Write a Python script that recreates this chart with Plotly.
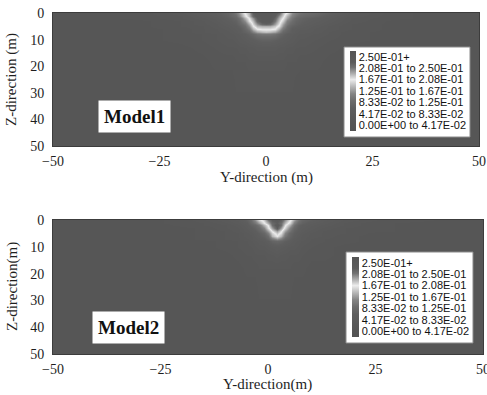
import plotly.graph_objects as go

W, H = 487, 395

# ---- Data -------------------------------------------------------------
# Horizontal (Y) and depth (Z) sample positions, metres
Y1 = [-50, -30, -20, -15, -12, -9, -8, -7, -6, -5, -4, -3, -2, -1, 0,
      1, 2, 3, 4, 5, 6, 7, 8, 9, 12, 15, 20, 30, 50]
Z1 = [0, 1, 2, 3, 4, 5, 6, 7, 8, 10, 13, 18, 25, 35, 50]

# Model1 field values (rows follow Z1, columns follow Y1)
M1 = [
    [.03, .04, .055, .07, .08, .095, .105, .12, .15, .19, .21, .25, .27, .27, .27, .27, .26, .24, .205, .18, .14, .125, .115, .11, .10, .085, .06, .04, .03],
    [.03, .04, .05, .065, .075, .09, .10, .11, .14, .18, .205, .24, .26, .27, .27, .27, .25, .22, .195, .16, .13, .115, .105, .10, .09, .075, .055, .04, .03],
    [.03, .04, .05, .06, .07, .085, .09, .10, .12, .16, .19, .22, .25, .27, .27, .27, .24, .21, .185, .15, .12, .105, .095, .09, .08, .07, .05, .04, .03],
    [.03, .035, .045, .055, .065, .08, .085, .09, .11, .14, .18, .205, .24, .26, .26, .26, .23, .20, .17, .13, .11, .095, .09, .085, .075, .065, .05, .035, .03],
    [.03, .035, .045, .055, .06, .075, .08, .085, .10, .12, .155, .195, .22, .24, .245, .24, .215, .19, .15, .12, .10, .09, .085, .08, .07, .06, .045, .035, .03],
    [.03, .035, .045, .05, .06, .07, .075, .08, .09, .11, .14, .185, .205, .21, .21, .21, .20, .18, .14, .11, .09, .085, .08, .075, .065, .055, .045, .035, .03],
    [.03, .035, .04, .05, .055, .065, .07, .075, .08, .10, .12, .16, .185, .19, .19, .19, .185, .155, .12, .10, .08, .075, .07, .07, .06, .055, .045, .035, .03],
    [.03, .035, .04, .05, .055, .06, .065, .07, .08, .09, .10, .13, .15, .16, .165, .16, .15, .13, .10, .09, .08, .07, .065, .065, .06, .05, .04, .035, .03],
    [.03, .035, .04, .045, .05, .06, .06, .065, .07, .08, .09, .10, .115, .12, .12, .12, .115, .10, .09, .08, .07, .065, .06, .06, .055, .05, .04, .035, .03],
    [.03, .035, .04, .045, .05, .055, .055, .06, .065, .07, .075, .08, .085, .09, .09, .09, .085, .08, .075, .07, .065, .06, .055, .055, .05, .045, .04, .035, .03],
    [.03, .03, .035, .04, .045, .05, .05, .05, .055, .055, .06, .06, .065, .065, .065, .065, .065, .06, .06, .055, .055, .05, .05, .05, .045, .04, .035, .03, .03],
    [.03, .03, .035, .035, .04, .04, .04, .045, .045, .045, .05, .05, .05, .05, .05, .05, .05, .05, .05, .045, .045, .045, .04, .04, .04, .035, .035, .03, .03],
    [.03, .03, .03, .035, .035, .035, .035, .04, .04, .04, .04, .04, .04, .04, .04, .04, .04, .04, .04, .04, .04, .035, .035, .035, .035, .035, .03, .03, .03],
    [.03, .03, .03, .03, .03, .035, .035, .035, .035, .035, .035, .035, .035, .035, .035, .035, .035, .035, .035, .035, .035, .035, .035, .035, .03, .03, .03, .03, .03],
    [.03, .03, .03, .03, .03, .03, .03, .03, .03, .03, .03, .03, .03, .03, .03, .03, .03, .03, .03, .03, .03, .03, .03, .03, .03, .03, .03, .03, .03],
]

Y2 = [-50, -30, -20, -15, -10, -7, -5, -4, -3, -2, -1, 0, 1, 2, 3, 4, 5,
      6, 7, 8, 10, 13, 18, 25, 35, 50]
Z2 = [0, 1, 2, 3, 4, 5, 6, 7, 8, 10, 13, 18, 25, 35, 50]

# Model2 field values (rows follow Z2, columns follow Y2)
M2 = [
    [.03, .035, .04, .05, .06, .07, .09, .11, .14, .175, .20, .23, .25, .255, .245, .22, .19, .15, .12, .10, .085, .07, .055, .045, .04, .03],
    [.03, .035, .04, .045, .055, .065, .08, .10, .12, .15, .185, .21, .24, .25, .235, .205, .175, .13, .105, .09, .075, .065, .05, .04, .035, .03],
    [.03, .03, .04, .045, .05, .06, .075, .09, .10, .12, .16, .19, .235, .26, .235, .19, .155, .115, .09, .08, .07, .06, .05, .04, .035, .03],
    [.03, .03, .035, .04, .05, .055, .07, .08, .09, .105, .135, .18, .215, .25, .215, .175, .13, .10, .085, .075, .065, .055, .045, .04, .035, .03],
    [.03, .03, .035, .04, .045, .055, .065, .07, .08, .095, .115, .15, .19, .215, .19, .15, .115, .09, .08, .07, .06, .05, .045, .04, .035, .03],
    [.03, .03, .035, .04, .045, .05, .06, .065, .075, .085, .10, .13, .175, .20, .18, .135, .10, .085, .075, .065, .055, .05, .045, .035, .03, .03],
    [.03, .03, .035, .04, .045, .05, .06, .06, .07, .08, .09, .11, .16, .185, .16, .12, .095, .08, .07, .06, .055, .05, .04, .035, .03, .03],
    [.03, .03, .035, .04, .045, .05, .055, .06, .065, .07, .08, .095, .12, .14, .125, .10, .085, .07, .065, .06, .05, .045, .04, .035, .03, .03],
    [.03, .03, .035, .035, .04, .045, .05, .055, .06, .065, .07, .08, .095, .10, .095, .085, .075, .065, .06, .055, .05, .045, .04, .035, .03, .03],
    [.03, .03, .03, .035, .04, .045, .05, .05, .055, .06, .06, .065, .07, .075, .07, .065, .06, .06, .055, .05, .045, .04, .035, .035, .03, .03],
    [.03, .03, .03, .035, .035, .04, .045, .045, .05, .05, .05, .055, .055, .06, .055, .055, .05, .05, .05, .045, .04, .04, .035, .03, .03, .03],
    [.03, .03, .03, .03, .035, .035, .04, .04, .04, .045, .045, .045, .045, .045, .045, .045, .045, .04, .04, .04, .035, .035, .03, .03, .03, .03],
    [.03, .03, .03, .03, .03, .035, .035, .035, .035, .04, .04, .04, .04, .04, .04, .04, .04, .035, .035, .035, .035, .03, .03, .03, .03, .03],
    [.03, .03, .03, .03, .03, .03, .03, .03, .035, .035, .035, .035, .035, .035, .035, .035, .035, .035, .035, .03, .03, .03, .03, .03, .03, .03],
    [.03, .03, .03, .03, .03, .03, .03, .03, .03, .03, .03, .03, .03, .03, .03, .03, .03, .03, .03, .03, .03, .03, .03, .03, .03, .03],
]

BAND_EDGES = [0.0, 0.0417, 0.0833, 0.125, 0.1667, 0.2083, 0.25, 0.2917]
BAND_LABELS = ["0.00E+00 to 4.17E-02", "4.17E-02 to 8.33E-02",
               "8.33E-02 to 1.25E-01", "1.25E-01 to 1.67E-01",
               "1.67E-01 to 2.08E-01", "2.08E-01 to 2.50E-01", "2.50E-01+"]
X_TICKS = [-50, -25, 0, 25, 50]
Z_TICKS = [0, 10, 20, 30, 40, 50]
MODEL_NAMES = ["Model1", "Model2"]
X_TITLES = ["Y-direction (m)", "Y-direction(m)"]
Z_TITLES = ["Z-direction (m)", "Z-direction(m)"]

# ---- Styling ----------------------------------------------------------
VMAX = BAND_EDGES[-1]
GRAY_STOPS = [(0.0, "#525252"), (0.042, "#575757"), (0.083, "#5e5e5e"),
              (0.110, "#6c6c6c"), (0.135, "#848484"), (0.160, "#b4b4b4"),
              (0.1875, "#ececec"), (0.210, "#acacac"), (0.232, "#727272"),
              (0.250, "#5c5c5c"), (VMAX, "#555555")]
COLORSCALE = [[v / VMAX, c] for v, c in GRAY_STOPS]
CENTERS = [(a + b) / 2 for a, b in zip(BAND_EDGES[:-1], BAND_EDGES[1:])]

SERIF = "Liberation Serif"
TXT = "#1e1e1e"

# panel frames in pixels: left, right, top, bottom
PANELS = [dict(l=53, r=479, t=13, b=146), dict(l=53, r=483, t=220, b=354)]
# colour key boxes (pixels)
KEYS = [dict(box=(344, 470, 47, 137), bar_x=350, bar_w=6, bar_c=91, lab=11),
        dict(box=(346, 473, 252, 343), bar_x=352, bar_w=7, bar_c=297, lab=11)]
NAME_POS = [(134.5, 116), (128, 327)]
XTITLE_POS = [(266, 178), (267, 384)]
ZTITLE_POS = [(12, 80), (12, 287)]


def fx(px):
    return px / W


def fy(py):
    return 1 - py / H


fig = go.Figure()
data = [(Y1, Z1, M1), (Y2, Z2, M2)]
shapes, annotations = [], []

for i, (yy, zz, mm) in enumerate(data):
    n = "" if i == 0 else str(i + 1)
    p = PANELS[i]
    k = KEYS[i]
    fig.add_trace(go.Heatmap(
        x=yy, y=zz, z=mm, zsmooth="best",
        zmin=0, zmax=VMAX, colorscale=COLORSCALE, showscale=True,
        colorbar=dict(
            x=fx(k["bar_x"]), xanchor="left", xpad=0, ypad=0,
            y=fy(k["bar_c"]), yanchor="middle",
            len=80, lenmode="pixels",
            thickness=k["bar_w"], thicknessmode="pixels",
            outlinewidth=0, ticks="", tickvals=CENTERS,
            ticktext=BAND_LABELS,
            tickfont=dict(family="Liberation Sans", size=k["lab"],
                          color="#111")),
        xaxis="x" + n, yaxis="y" + n))

    axis_common = dict(showgrid=False, zeroline=False, ticks="",
                       showline=True, linecolor="#3c3c3c", linewidth=1,
                       mirror=True, automargin=False,
                       ticklabeloverflow="allow",
                       tickfont=dict(family=SERIF, size=14, color=TXT))
    fig.update_layout({
        "xaxis" + n: dict(axis_common, domain=[fx(p["l"]), fx(p["r"])],
                          range=[-50, 50], tickvals=X_TICKS,
                          anchor="y" + n, ticklabelstandoff=2),
        "yaxis" + n: dict(axis_common, domain=[fy(p["b"]), fy(p["t"])],
                          range=[50, 0], tickvals=Z_TICKS,
                          anchor="x" + n, ticklabelstandoff=5),
    })

    bx0, bx1, by0, by1 = k["box"]
    shapes.append(dict(type="rect", xref="paper", yref="paper",
                       x0=fx(bx0), x1=fx(bx1), y0=fy(by1), y1=fy(by0),
                       fillcolor="white", line=dict(color="#8a8a8a", width=1),
                       layer="above"))

    nx, ny = NAME_POS[i]
    annotations.append(dict(
        text=MODEL_NAMES[i], xref="paper", yref="paper",
        x=fx(nx), y=fy(ny), xanchor="center", yanchor="middle",
        showarrow=False, bgcolor="white", borderpad=5,
        font=dict(family=SERIF, size=19, color="#111", weight="bold")))

    tx, ty = XTITLE_POS[i]
    annotations.append(dict(
        text=X_TITLES[i], xref="paper", yref="paper", x=fx(tx), y=fy(ty),
        xanchor="center", yanchor="middle", showarrow=False,
        font=dict(family=SERIF, size=15, color=TXT)))
    zx, zy = ZTITLE_POS[i]
    annotations.append(dict(
        text=Z_TITLES[i], xref="paper", yref="paper", x=fx(zx), y=fy(zy),
        xanchor="center", yanchor="middle", showarrow=False, textangle=-90,
        font=dict(family=SERIF, size=15, color=TXT)))

fig.update_layout(
    width=W, height=H, template="none",
    margin=dict(l=0, r=0, t=0, b=0, autoexpand=False),
    paper_bgcolor="white", plot_bgcolor="#555555",
    showlegend=False, shapes=shapes, annotations=annotations,
)

fig.write_html("out.html")
